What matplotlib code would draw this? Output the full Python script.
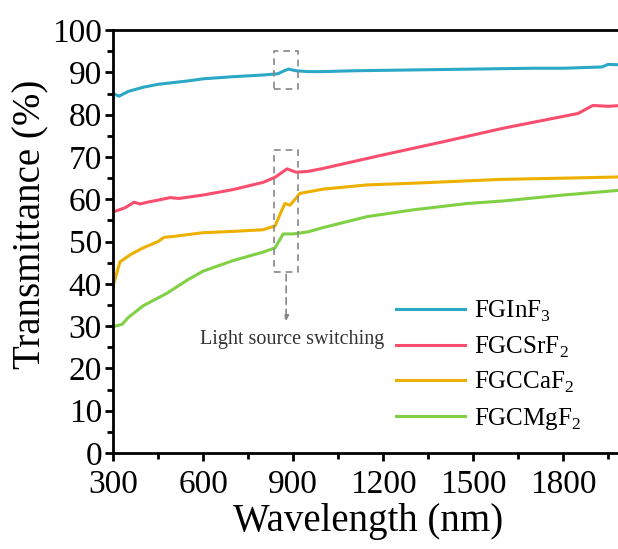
import matplotlib.pyplot as plt
from matplotlib.ticker import MultipleLocator

plt.rcParams['font.family'] = ['Liberation Serif', 'DejaVu Serif']
plt.rcParams['mathtext.fontset'] = 'custom'
plt.rcParams['mathtext.rm'] = 'Liberation Serif'

# FGInF3
wl_in = [300, 320, 350, 400, 450, 500, 550, 600, 700, 800, 850, 870, 885, 910, 950, 1000,
         1100, 1200, 1300, 1400, 1500, 1600, 1700, 1800, 1930, 1950, 2000]
t_in = [85.0, 84.4, 85.5, 86.5, 87.2, 87.6, 88.0, 88.5, 89.0, 89.4, 89.7, 90.4, 90.8, 90.4,
        90.2, 90.2, 90.4, 90.5, 90.6, 90.7, 90.8, 90.9, 91.0, 91.0, 91.3, 91.9, 91.8]

# FGCSrF2
wl_sr = [300, 340, 370, 390, 420, 450, 490, 520, 600, 700, 800, 840, 880, 910, 950, 1000,
         1200, 1400, 1600, 1800, 1850, 1900, 1950, 2000]
t_sr = [57.0, 58.0, 59.3, 58.9, 59.4, 59.8, 60.4, 60.2, 61.0, 62.3, 64.0, 65.2, 67.2, 66.4,
        66.6, 67.3, 70.5, 73.6, 76.8, 79.6, 80.3, 82.2, 82.0, 82.2]

# FGCCaF2
wl_ca = [300, 323, 360, 400, 450, 470, 500, 600, 700, 800, 840, 860, 873, 890, 923, 1000,
         1147, 1300, 1590, 1800, 2000]
t_ca = [39.5, 45.2, 47.0, 48.5, 50.0, 51.0, 51.2, 52.1, 52.4, 52.8, 53.7, 57.0, 59.0, 58.6,
        61.4, 62.4, 63.4, 63.8, 64.7, 65.0, 65.3]

# FGCMgF2
wl_mg = [300, 330, 350, 400, 480, 550, 600, 700, 800, 840, 867, 900, 950, 1000, 1147, 1300,
         1480, 1600, 1800, 2000]
t_mg = [29.9, 30.4, 32.0, 34.8, 37.8, 41.0, 43.0, 45.5, 47.5, 48.5, 51.8, 51.8, 52.3, 53.3,
        55.9, 57.5, 59.0, 59.6, 61.0, 62.2]

labels = ['FGInF$_\\mathregular{3}$', 'FGCSrF$_\\mathregular{2}$',
          'FGCCaF$_\\mathregular{2}$', 'FGCMgF$_\\mathregular{2}$']
colors = ['#2aa8c6', '#fb4d6d', '#eeb000', '#80d044']

fig = plt.figure(figsize=(6.18, 5.49), dpi=100)
ax = fig.add_axes([0.183, 0.175, 0.825, 0.770])

for x, y, lab, c in zip([wl_in, wl_sr, wl_ca, wl_mg], [t_in, t_sr, t_ca, t_mg], labels, colors):
    ax.plot(x, y, color=c, lw=2.2, label=lab)

# dashed boxes marking light source switching
box = dict(color='#888888', lw=1.2, ls=(0, (4, 3)))
ax.plot([837, 917, 917, 837, 837], [86.0, 86.0, 95.0, 95.0, 86.0], **box)
ax.plot([837, 917, 917, 837, 837], [42.9, 42.9, 71.6, 71.6, 42.9], **box)
ax.annotate('', xy=(877, 30.5), xytext=(877, 42.9),
            arrowprops=dict(arrowstyle='-|>', color='#888888', lw=1.2, ls=(0, (4, 3)),
                            mutation_scale=8))
ax.text(898, 26.9, 'Light source switching', fontsize=14.5, ha='center', va='center',
        color='#333333')

ax.set_xlim(300, 2000)
ax.set_ylim(0, 100)
ax.xaxis.set_major_locator(MultipleLocator(300))
ax.xaxis.set_minor_locator(MultipleLocator(150))
ax.yaxis.set_major_locator(MultipleLocator(10))
ax.yaxis.set_minor_locator(MultipleLocator(5))
ax.tick_params(which='major', direction='out', length=6, width=2, labelsize=24, pad=2)
ax.tick_params(axis='x', which='major', pad=6)
ax.tick_params(which='minor', direction='out', length=4, width=2)
for s in ax.spines.values():
    s.set_linewidth(2)

ax.set_xlabel('Wavelength (nm)', fontsize=28)
ax.set_ylabel('Transmittance (%)', fontsize=28)
ax.xaxis.set_label_coords(0.5, -0.118, transform=ax.transAxes)
ax.yaxis.set_label_coords(-0.125, 0.541, transform=ax.transAxes)

ax.legend(loc='upper left', bbox_to_anchor=(0.555, 0.365), frameon=False, fontsize=18,
          handlelength=2.75, labelspacing=0.42, handletextpad=0.35,
          borderaxespad=0, borderpad=0)

fig.savefig('out.png', dpi=100)
